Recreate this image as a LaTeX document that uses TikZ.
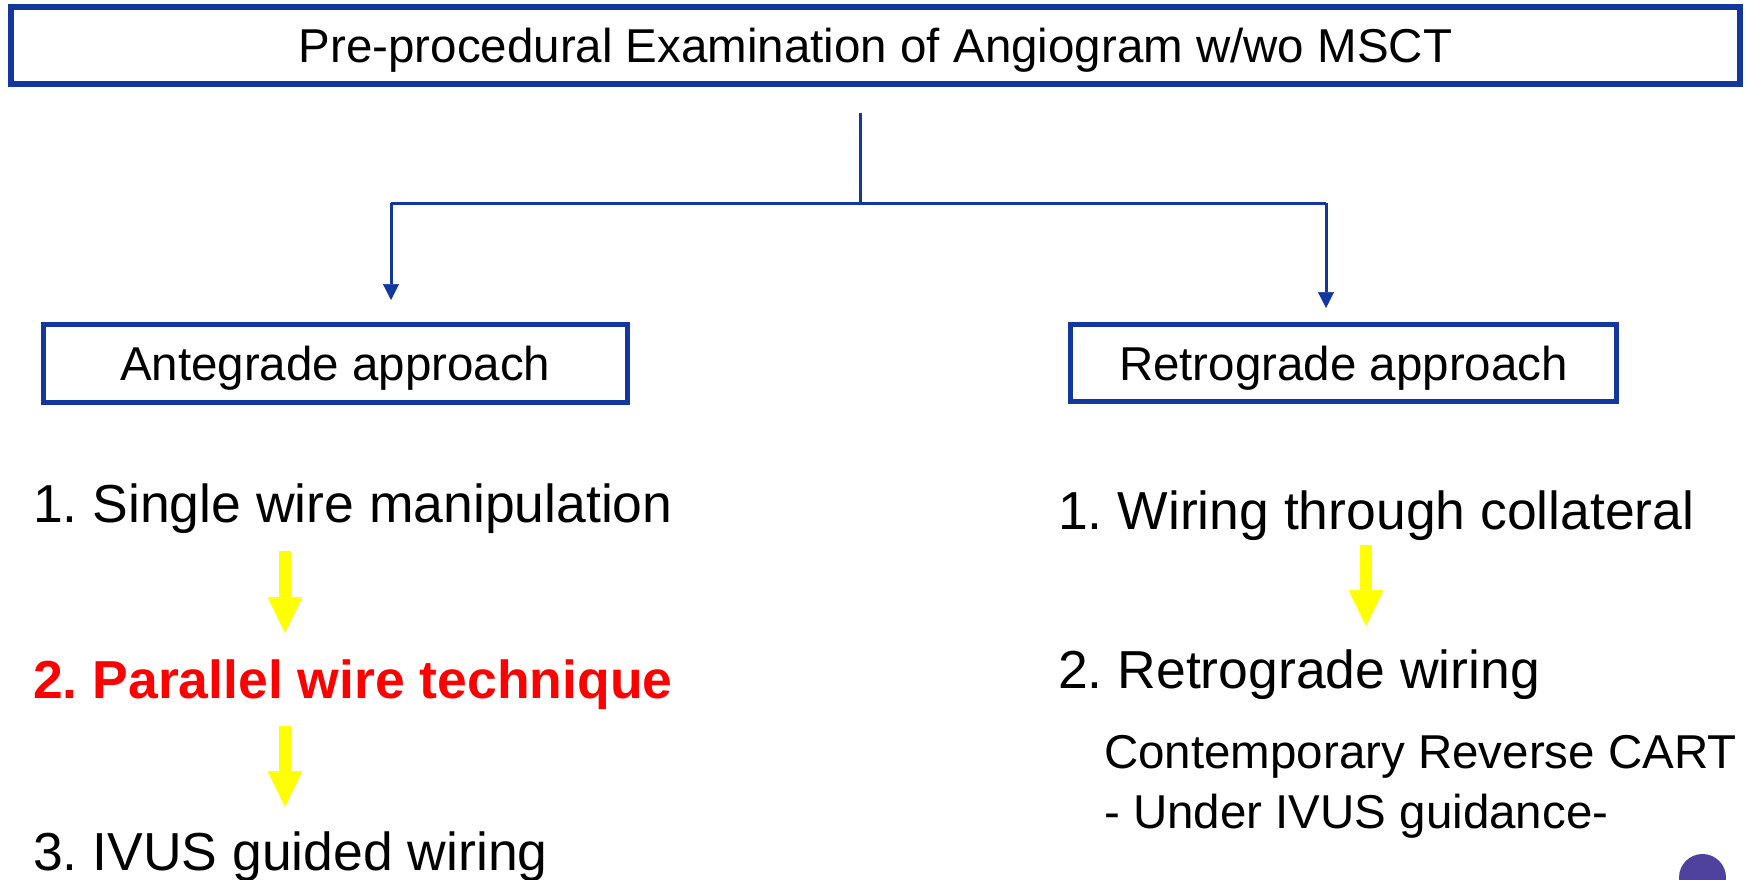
\documentclass[tikz,border=0pt]{standalone}
\usepackage{fontspec}
\setmainfont{Liberation Sans}
\usetikzlibrary{arrows.meta}
\definecolor{boxblue}{RGB}{18,56,160}
\definecolor{dotpurple}{RGB}{78,66,158}
\definecolor{hotred}{RGB}{255,0,0}
\definecolor{flowyellow}{RGB}{255,255,0}
\frenchspacing
\begin{document}
\begin{tikzpicture}[x=1pt,y=-1pt,
  boxstyle/.style={draw=boxblue, fill=white, inner sep=0pt,
    font=\fontsize{47.5}{57}\selectfont, text height=34pt, text depth=0pt},
  conn/.style={draw=boxblue, line width=3pt},
  conntip/.style={conn, -{Triangle[width=16pt,length=16pt,line width=0.5pt]}},
  yarrow/.style={draw=flowyellow, line width=12pt,
    -{Triangle[width=35pt,length=36pt,line width=0.5pt]}},
  item/.style={anchor=base west, inner sep=0pt, font=\fontsize{53.5}{64}\selectfont},
  subitem/.style={anchor=base west, inner sep=0pt, font=\fontsize{47.5}{57}\selectfont}
]
\useasboundingbox (0,0) rectangle (1747,880);

% boxes
\node[boxstyle, line width=6pt, minimum width=1729pt, minimum height=77pt]
  (top) at (875.5,45.5) {Pre-procedural Examination of Angiogram w/wo MSCT};
\node[boxstyle, line width=5pt, minimum width=583.5pt, minimum height=78pt]
  (ante) at (335.25,363.5) {Antegrade approach};
\node[boxstyle, line width=5pt, minimum width=546pt, minimum height=77pt]
  (retro) at (1343.5,363) {Retrograde approach};

% connectors
\coordinate (stem) at (860,113);
\coordinate (split) at (860,203);
\coordinate (lc) at (391,203);
\coordinate (rc) at (1326,203);
\coordinate (ltip) at (391,300);
\coordinate (rtip) at (1326,308);
\draw[conn] (stem) -- (split);
\draw[conn] (lc) -- (rc);
\draw[conntip] (lc) -- (ltip);
\draw[conntip] (rc) -- (rtip);

% left list
\node[item] (a1) at (33,522) {1. Single wire manipulation};
\node[item, font=\fontsize{53.5}{64}\selectfont\bfseries, text=hotred] (a2) at (33,698) {2. Parallel wire technique};
\node[item] (a3) at (33,870) {3. IVUS guided wiring};

% right list
\node[item] (r1) at (1058,529) {1. Wiring through collateral};
\node[item] (r2) at (1058,688) {2. Retrograde wiring};
\node[subitem] (r3) at (1104,768) {Contemporary Reverse CART};
\node[subitem] (r4) at (1104,828) {- Under IVUS guidance-};

% yellow flow arrows
\coordinate (ya1s) at (285,551);
\coordinate (ya1e) at (285,633);
\coordinate (ya2s) at (285,726);
\coordinate (ya2e) at (285,807);
\coordinate (yb1s) at (1366,545);
\coordinate (yb1e) at (1366,626);
\draw[yarrow] (ya1s) -- (ya1e);
\draw[yarrow] (ya2s) -- (ya2e);
\draw[yarrow] (yb1s) -- (yb1e);

% corner dot
\node[circle, fill=dotpurple, minimum size=47pt, inner sep=0pt] (dot) at (1702.5,877.5) {};
\end{tikzpicture}
\end{document}
